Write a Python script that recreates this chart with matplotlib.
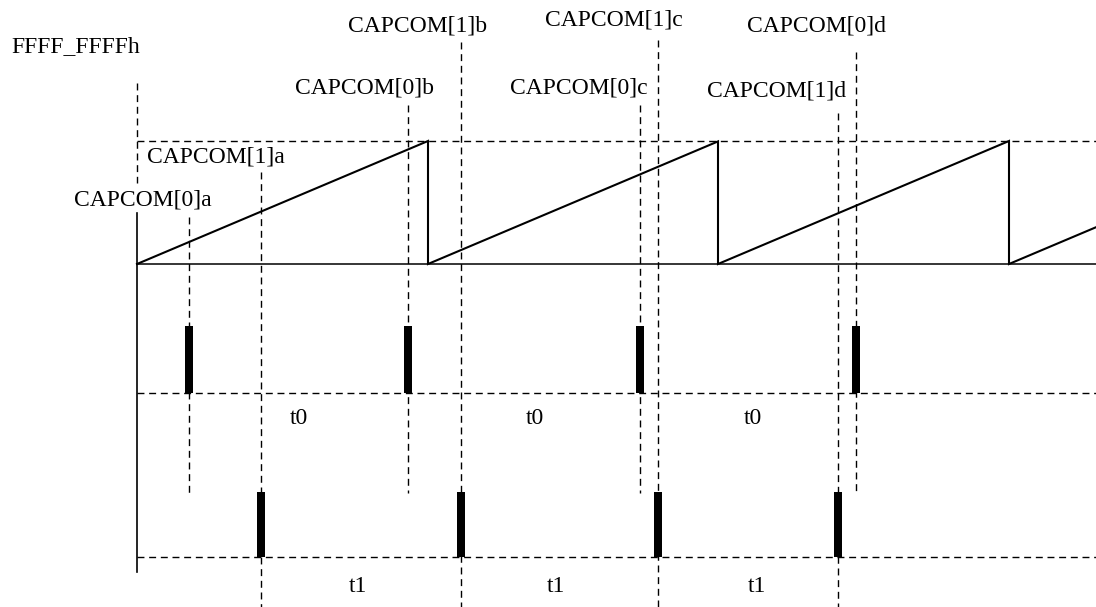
import matplotlib
matplotlib.use("Agg")
import matplotlib.pyplot as plt

# ---------------- data (time axis in diagram units) ----------------
wrap_times = [137, 428, 718, 1009]          # counter restarts
time_end = 1096                              # end of visible timeline
capcom0_times = [189, 408, 640, 856]         # CAPCOM[0] capture events
capcom1_times = [261, 461, 658, 838]         # CAPCOM[1] capture events
capcom0_labels = ["CAPCOM[0]a", "CAPCOM[0]b", "CAPCOM[0]c", "CAPCOM[0]d"]
capcom1_labels = ["CAPCOM[1]a", "CAPCOM[1]b", "CAPCOM[1]c", "CAPCOM[1]d"]
t0_labels = ["t0", "t0", "t0"]
t1_labels = ["t1", "t1", "t1"]
max_label = "FFFF_FFFFh"

# ---------------- layout (pixel-like coordinates, y downward) ----------------
W, H = 1096, 607
Y_TOP, Y_ZERO = 141, 264
ROW0_BASE, ROW0_TOP = 393, 326
ROW1_BASE, ROW1_TOP = 557, 492
AXIS_X = wrap_times[0]
cap0_label_pos = [(143, 200), (364, 88), (579, 88), (816, 26)]
cap1_label_pos = [(216, 157), (418, 26), (614, 20), (777, 91)]
cap0_line_top = [217, 105, 105, 52]
cap1_line_top = [172, 42, 40, 113]
cap0_line_bottom = 493
cap1_line_bottom = H
t0_pos = [(299, 418), (535, 418), (753, 418)]
t1_pos = [(358, 587), (556, 587), (757, 587)]

FONT = "Liberation Serif"
FS = 17
DASH = (0, (5, 3.4))

fig = plt.figure(figsize=(W / 100, H / 100), dpi=100)
ax = fig.add_axes([0, 0, 1, 1])
ax.set_xlim(0, W)
ax.set_ylim(H, 0)
ax.axis("off")

# counter ramp
period = wrap_times[1] - wrap_times[0]
xs, ys = [], []
bounds = wrap_times + [time_end]
for s, e in zip(bounds[:-1], bounds[1:]):
    frac = (e - s) / period
    top = Y_ZERO - (Y_ZERO - Y_TOP) * min(frac, 1.0)
    xs += [s, e]
    ys += [Y_ZERO, top]
    if frac >= 0.999:
        xs.append(e)
        ys.append(Y_ZERO)
ax.plot(xs, ys, color="black", lw=1.5, solid_joinstyle="miter", zorder=3)

# baselines
ax.plot([AXIS_X, W], [Y_ZERO, Y_ZERO], color="black", lw=1.1, zorder=2)
ax.plot([AXIS_X, W], [Y_TOP, Y_TOP], color="black", lw=1.0, linestyle=DASH)
ax.plot([AXIS_X, W], [ROW0_BASE, ROW0_BASE], color="black", lw=1.0, linestyle=DASH)
ax.plot([AXIS_X, W], [ROW1_BASE, ROW1_BASE], color="black", lw=1.0, linestyle=DASH)

# left axis
ax.plot([AXIS_X, AXIS_X], [83, 183], color="black", lw=1.0, linestyle=DASH)
ax.plot([AXIS_X, AXIS_X], [213, 572], color="black", lw=1.2)
ax.text(76, 47, max_label, fontsize=FS, family=FONT, ha="center", va="center")

# capture events
for t, lab, (lx, ly), top in zip(capcom0_times, capcom0_labels, cap0_label_pos, cap0_line_top):
    ax.plot([t, t], [top, cap0_line_bottom], color="black", lw=1.0, linestyle=DASH)
    ax.text(lx, ly, lab, fontsize=FS, family=FONT, ha="center", va="center")
ax.bar(capcom0_times, [ROW0_TOP - ROW0_BASE] * len(capcom0_times),
       bottom=ROW0_BASE, width=8, color="black", zorder=4)

for t, lab, (lx, ly), top in zip(capcom1_times, capcom1_labels, cap1_label_pos, cap1_line_top):
    ax.plot([t, t], [top, cap1_line_bottom], color="black", lw=1.0, linestyle=DASH)
    ax.text(lx, ly, lab, fontsize=FS, family=FONT, ha="center", va="center")
ax.bar(capcom1_times, [ROW1_TOP - ROW1_BASE] * len(capcom1_times),
       bottom=ROW1_BASE, width=8, color="black", zorder=4)

for lab, (x, y) in zip(t0_labels, t0_pos):
    ax.text(x, y, lab, fontsize=FS, family=FONT, ha="center", va="center")
for lab, (x, y) in zip(t1_labels, t1_pos):
    ax.text(x, y, lab, fontsize=FS, family=FONT, ha="center", va="center")

fig.savefig("out.png", dpi=100, facecolor="white")
